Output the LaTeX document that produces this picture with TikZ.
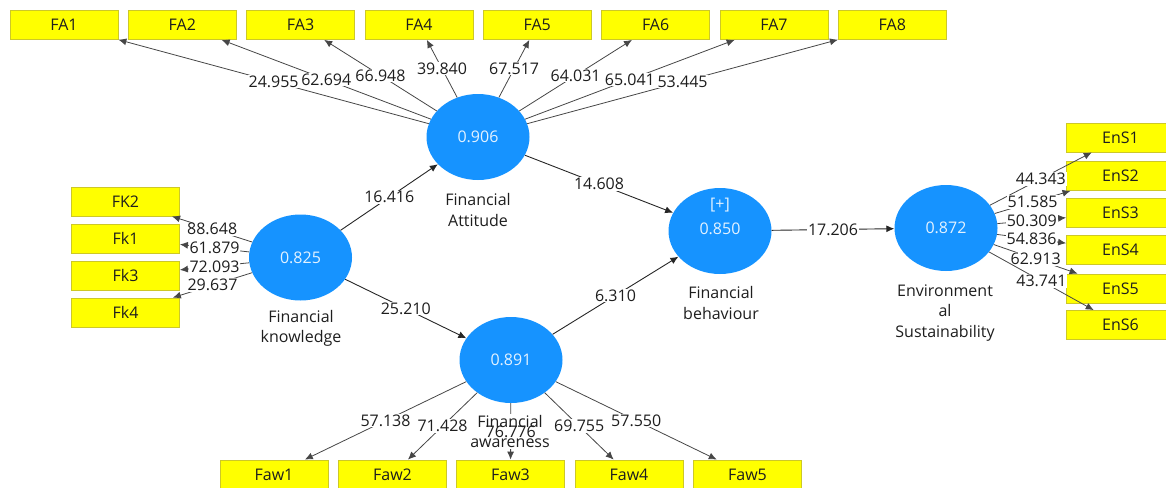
\documentclass[tikz,border=0pt]{standalone}
\usepackage{fontspec}
\setmainfont{Open Sans}
\usetikzlibrary{shapes.geometric,arrows.meta}
\definecolor{lvblue}{RGB}{22,147,255}
\definecolor{indyel}{RGB}{255,255,0}
\definecolor{indedge}{RGB}{205,200,40}
\definecolor{linegray}{RGB}{70,70,70}
\definecolor{txt}{RGB}{30,30,30}
\begin{document}
\begin{tikzpicture}[x=1pt,y=-1pt,
  every node/.style={font=\fontsize{16}{20.5}\selectfont},
  ind/.style={draw=indedge, fill=indyel, minimum width=108pt, minimum height=29pt, inner sep=0pt, line width=0.8pt, text=txt},
  lv/.style={ellipse, fill=lvblue, minimum width=103pt, minimum height=86pt, inner sep=0pt, text=white!88!lvblue},
  nm/.style={align=center, text=txt, inner sep=1pt},
  load/.style={draw=linegray, line width=0.8pt, -{Latex[length=8pt,width=7pt]}},
  pth/.style={draw=black!85, line width=0.9pt, -{Latex[length=8pt,width=7pt]}},
  lab/.style={fill=white, inner sep=0.8pt, text=txt},
]
\useasboundingbox (0,0) rectangle (1166,487);

% indicator boxes
\node[ind] (FA1) at (64,25) {FA1};
\node[ind] (FA2) at (182.3,25) {FA2};
\node[ind] (FA3) at (300.6,25) {FA3};
\node[ind] (FA4) at (419,25) {FA4};
\node[ind] (FA5) at (537.2,25) {FA5};
\node[ind] (FA6) at (655.6,25) {FA6};
\node[ind] (FA7) at (774,25) {FA7};
\node[ind] (FA8) at (892.3,25) {FA8};

\node[ind] (FK2) at (125.5,201.5) {FK2};
\node[ind] (Fk1) at (125.5,238.5) {Fk1};
\node[ind] (Fk3) at (125.5,275.5) {Fk3};
\node[ind] (Fk4) at (125.5,312.5) {Fk4};

\node[ind] (EnS1) at (1120.5,137.5) {EnS1};
\node[ind] (EnS2) at (1120.5,176) {EnS2};
\node[ind] (EnS3) at (1120.5,213) {EnS3};
\node[ind] (EnS4) at (1120.5,250) {EnS4};
\node[ind] (EnS5) at (1120.5,288.5) {EnS5};
\node[ind] (EnS6) at (1120.5,325) {EnS6};

\node[ind] (Faw1) at (274,474.5) {Faw1};
\node[ind] (Faw2) at (392.5,474.5) {Faw2};
\node[ind] (Faw3) at (510.5,474.5) {Faw3};
\node[ind] (Faw4) at (629,474.5) {Faw4};
\node[ind] (Faw5) at (747.5,474.5) {Faw5};

% latent variables
\node[lv] (FA) at (478,137) {0.906};
\node[lv] (FK) at (300.5,257.5) {0.825};
\node[lv] (FB) at (720,231) {};
\node[text=white!88!lvblue] (FBplus) at (720,205) {[+]};
\node[text=white!88!lvblue] (FBval) at (720,229) {0.850};
\node[lv] (FAw) at (511,360) {0.891};
\node[lv] (ES) at (946,228) {0.872};

% names
\node[nm] (FAname) at (478,210) {Financial\\Attitude};
\node[nm] (FKname) at (301,328.5) {Financial\\knowledge};
\node[nm] (FBname) at (721,303) {Financial\\behaviour};
\node[nm] (ESname) at (945,313) {Environment\\al\\Sustainability};

% FA loadings
\draw[load] (FA) -- node[lab]{24.955} (FA1);
\draw[load] (FA) -- node[lab]{62.694} (FA2);
\draw[load] (FA) -- node[lab]{66.948} (FA3);
\draw[load] (FA) -- node[lab]{39.840} (FA4);
\draw[load] (FA) -- node[lab]{67.517} (FA5);
\draw[load] (FA) -- node[lab]{64.031} (FA6);
\draw[load] (FA) -- node[lab]{65.041} (FA7);
\draw[load] (FA) -- node[lab]{53.445} (FA8);

% FK loadings
\draw[load] (FK) -- node[lab]{88.648} (FK2);
\draw[load] (FK) -- node[lab]{61.879} (Fk1);
\draw[load] (FK) -- node[lab]{72.093} (Fk3);
\draw[load] (FK) -- node[lab]{29.637} (Fk4);

% ES loadings
\draw[load] (ES) -- node[lab]{44.343} (EnS1);
\draw[load] (ES) -- node[lab]{51.585} (EnS2);
\draw[load] (ES) -- node[lab]{50.309} (EnS3);
\draw[load] (ES) -- node[lab]{54.836} (EnS4);
\draw[load] (ES) -- node[lab]{62.913} (EnS5);
\draw[load] (ES) -- node[lab]{43.741} (EnS6);

% FAw loadings
\draw[load] (FAw) -- node[lab]{57.138} (Faw1);
\draw[load] (FAw) -- node[lab]{71.428} (Faw2);
\draw[load] (FAw) -- coordinate[midway] (m3) (Faw3);
\draw[load] (FAw) -- node[lab]{69.755} (Faw4);
\draw[load] (FAw) -- node[lab]{57.550} (Faw5);
\node[nm, fill=white] (FAwname) at (510,431.5) {Financial\\awareness};
\node[lab, fill=none] (l3) at (m3) {76.776};

% structural paths
\draw[pth] (FK) -- node[lab]{16.416} (FA);
\draw[pth] (FK) -- node[lab]{25.210} (FAw);
\draw[pth] (FA) -- node[lab]{14.608} (FB);
\draw[pth] (FAw) -- node[lab]{6.310} (FB);
\draw[pth] (FB) -- node[lab]{17.206} (ES);
\end{tikzpicture}
\end{document}
